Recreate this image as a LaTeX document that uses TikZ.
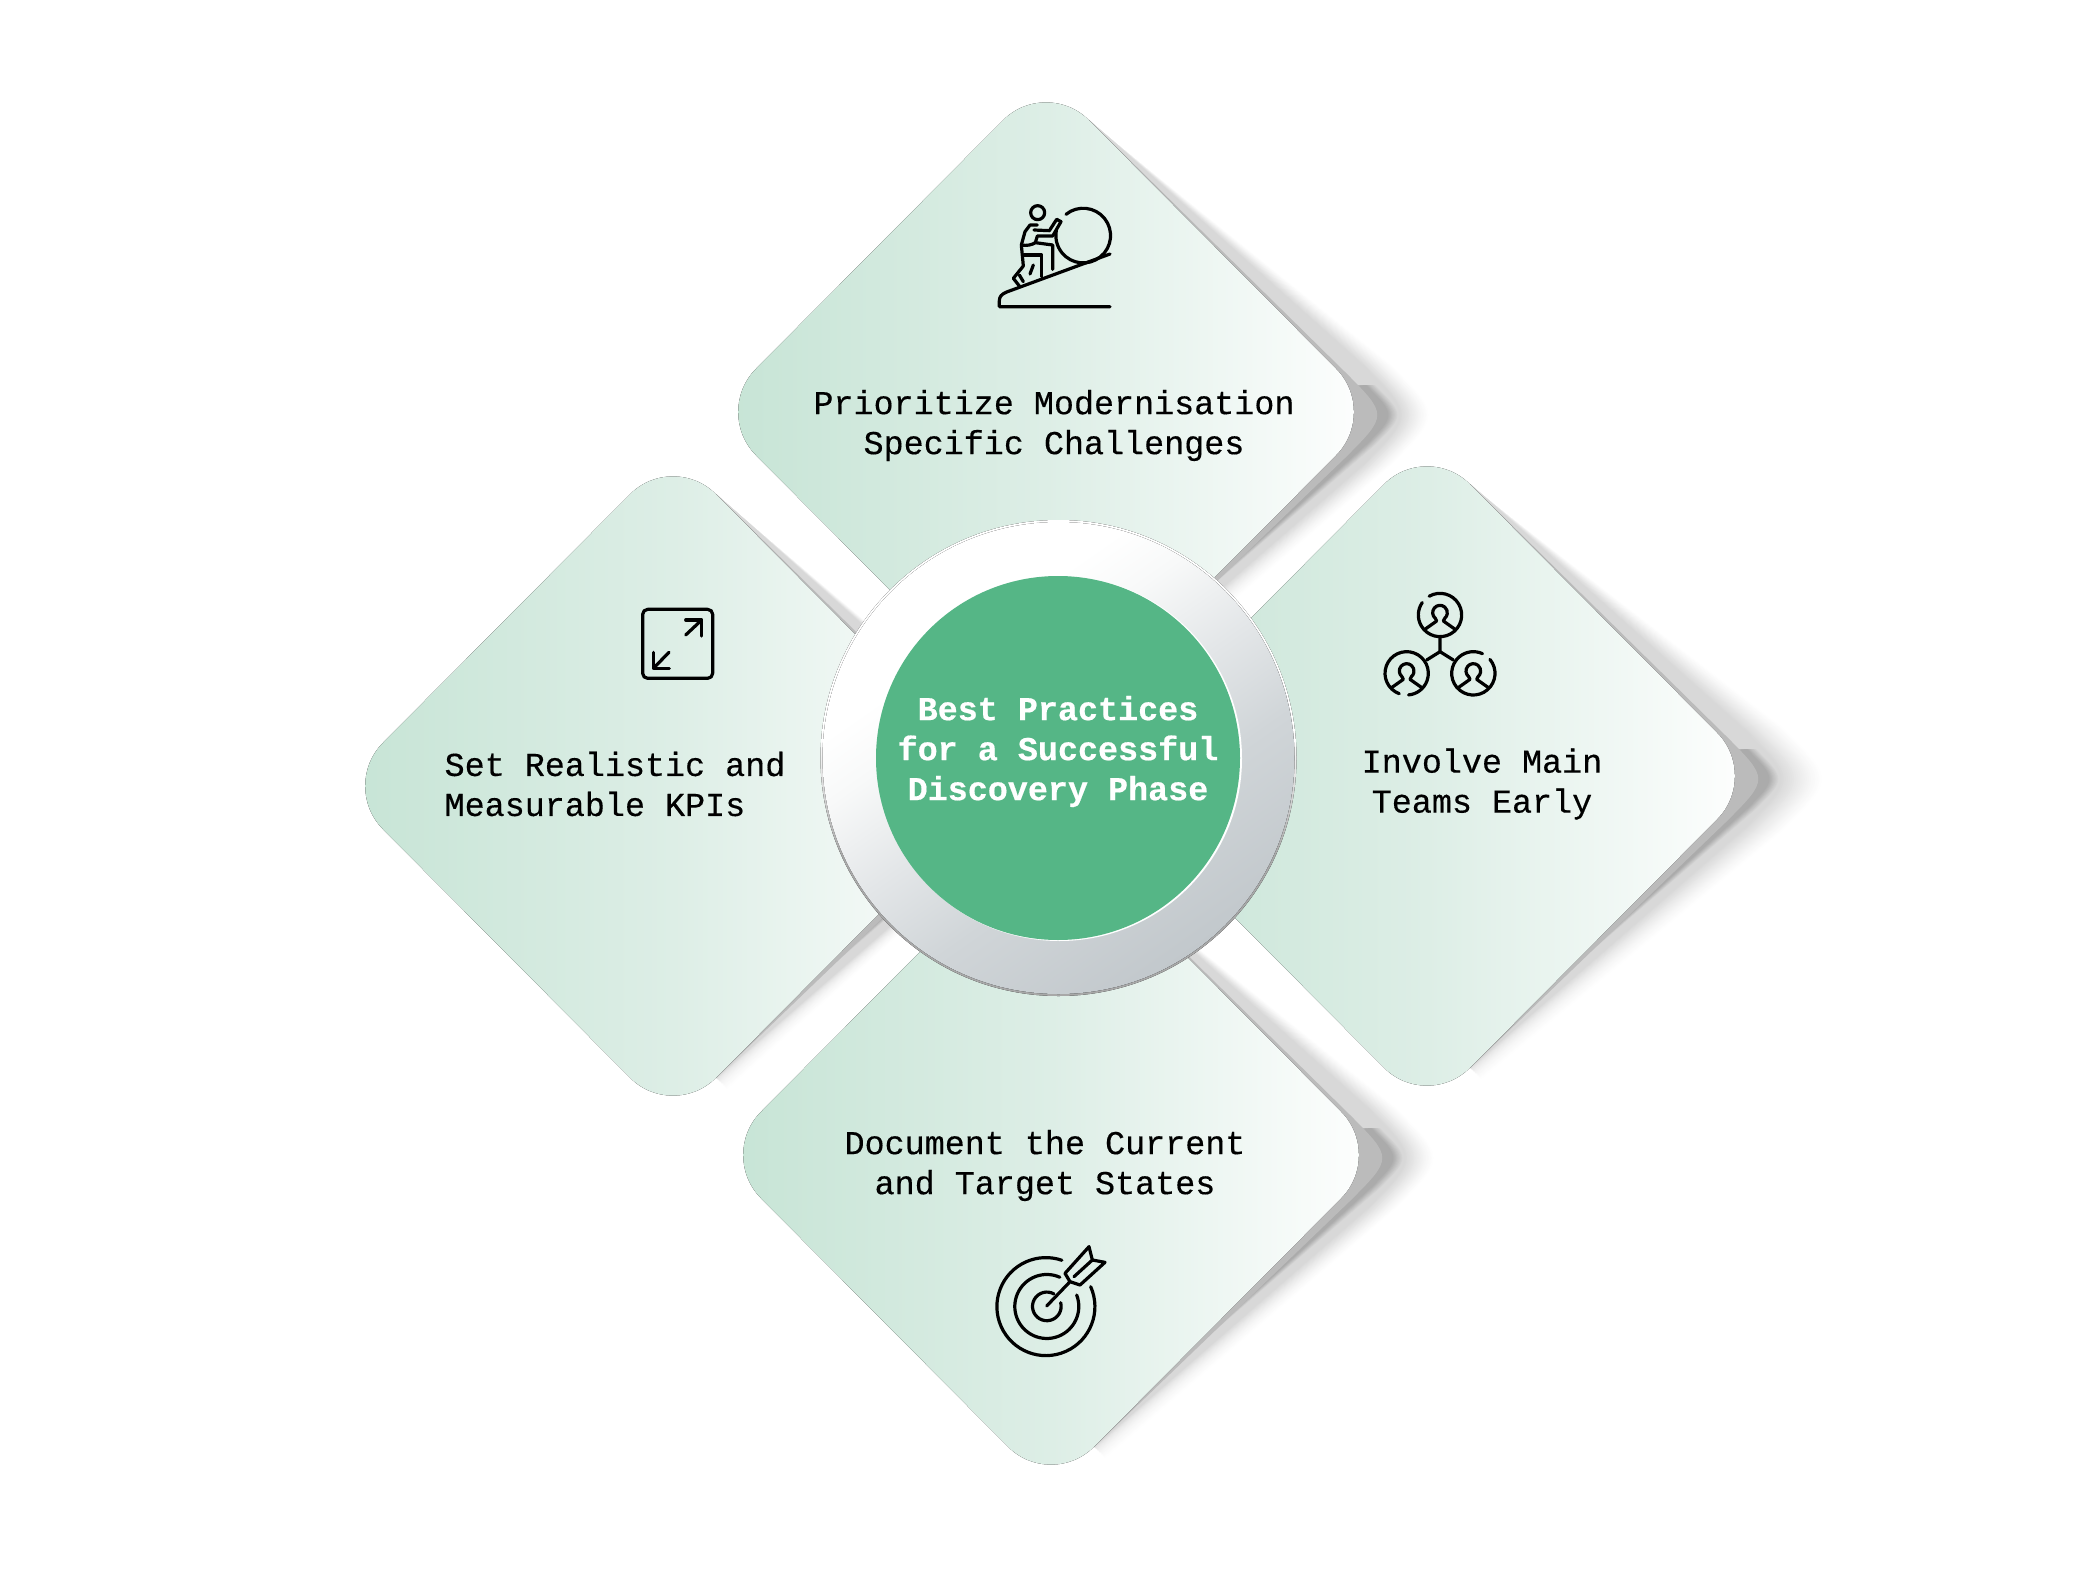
\documentclass[tikz,border=0pt]{standalone}
\usepackage{fontspec}
\setmainfont{Liberation Mono}
\newfontfamily\bodyfont[FakeBold=0.35]{Liberation Mono}
\newfontfamily\headfont[FakeBold=0.5]{Liberation Mono Bold}
\definecolor{mintL}{HTML}{C6E4D5}
\definecolor{mintM}{HTML}{DDEEE6}
\definecolor{mintR}{HTML}{FFFFFF}
\definecolor{softgray}{HTML}{D8D8D8}
\definecolor{darkgray}{HTML}{ABABAB}
\definecolor{bandgray}{HTML}{BBBBBB}
\definecolor{hubgreen}{HTML}{55B686}
\definecolor{ringa}{HTML}{C2C8CC}
\definecolor{ringb}{HTML}{D0D5D8}
\definecolor{ringc}{HTML}{E3E6E8}
\definecolor{ringd}{HTML}{F8F9F9}
\definecolor{ringedge}{HTML}{A8A8A8}
\pgfdeclareverticalshading{ringshade}{100bp}{color(0bp)=(ringa); color(25bp)=(ringa); color(40bp)=(ringb); color(50bp)=(ringc); color(60bp)=(ringd); color(66bp)=(white); color(100bp)=(white)}
\pgfdeclareverticalshading{edgeshade}{100bp}{color(0bp)=(ringedge); color(40bp)=(ringedge); color(52bp)=(white); color(100bp)=(white)}
\tikzset{
  label text/.style={font=\bodyfont\fontsize{16.7}{20}\selectfont,text=black,inner sep=0pt,align=center},
  hub text/.style={font=\headfont\fontsize{16.7}{20}\selectfont,text=white,inner sep=0pt,align=center},
  ico/.style={draw=black,line width=1.6pt,line cap=round,line join=round,fill=none},
  iconscale/.style={x=0.16667pt,y=-0.16667pt},
}
% wedge with a soft tip: colour, cx, cy, top dx, top dy, tip x, bottom dx, bottom dy, softness
\newcommand\shadowwedge[9]{%
  \fill[#1] ({#2+#4},{#3-#5}) -- ({#2+#6-#9},{#3+3-#9})
  .. controls ({#2+#6},{#3+3}) .. ({#2+#6-#9},{#3+3+#9})
  -- ({#2+#7},{#3+#8}) -- cycle;
}
% shadow: cx, cy, reach beyond the tip
\newcommand\softshadow[3]{%
  \foreach \k in {0,...,20}{%
    \pgfmathsetmacro\s{1-\k/20}%
    \pgfmathsetmacro\p{100*(1-\s)^1.2}%
    \pgfmathsetmacro\off{12*\s*\s}%
    \pgfmathsetmacro\tipx{332+35+(#3-35)*\s}%
    \shadowwedge{softgray!\p!white}{#1}{#2}{43+\off}{292+\off}{\tipx}{43+\off}{292+\off}{50}
  }%
  \foreach \k in {0,...,8}{%
    \pgfmathsetmacro\p{100*\k/8}%
    \pgfmathsetmacro\t{360-10*\k/8}%
    \shadowwedge{darkgray!\p!softgray}{#1}{#2}{295}{25}{\t}{95}{235}{30}
  }%
  \shadowwedge{bandgray}{#1}{#2}{43}{292}{342}{43}{292}{43}
}
\newcommand\petal[2]{%
  \fill[left color=mintL,right color=mintR,middle color=mintM,rounded corners=30.5pt]
    ({#1},{#2-335}) -- ({#1+333},{#2}) -- ({#1},{#2+335}) -- ({#1-333},{#2}) -- cycle;
}
\newcommand\person[3]{% cx cy gap-start
  \draw[ico] ({#1+65*cos(#3)},{#2+65*sin(#3)}) arc[start angle=#3,end angle=#3+335,radius=65];
  \draw[ico] ({#1+22*cos(130)},{#2-7+22*sin(130)}) arc[start angle=130,end angle=410,radius=22];
  \draw[ico] ({#1-14},{#2+10}) -- ({#1-10},{#2+18}) -- ({#1-44},{#2+42});
  \draw[ico] ({#1+14},{#2+10}) -- ({#1+10},{#2+18}) -- ({#1+44},{#2+42});
}
\begin{document}
\begin{tikzpicture}[x=0.5pt,y=-0.5pt]
\useasboundingbox[fill=white] (0,0) rectangle (2084,1584);
% shadows
\softshadow{1046}{412}{64}
\softshadow{673}{786}{50}
\softshadow{1427}{776}{77}
\softshadow{1051}{1155}{64}
% petals
\petal{1046}{412}
\petal{673}{786}
\petal{1427}{776}
\petal{1051}{1155}
% hub
\fill[shading=edgeshade] (1058.5,758) circle[radius=238];
\fill[shading=ringshade,shading angle=35] (1058.5,758) circle[radius=236];
\fill[white] (1059.5,758.5) circle[radius=182.5];
\fill[hubgreen] (1058,758) circle[radius=182];
% texts
\node[hub text] (hub) at (1058,751.5) {Best Practices\\for a Successful\\Discovery Phase};
\node[label text] (topl) at (1054,425.5) {Prioritize Modernisation\\Specific Challenges};
\node[label text,align=left] (leftl) at (615,784) {Set Realistic and\\Measurable KPIs};
\node[label text] (rightl) at (1482,784) {Involve Main\\Teams Early};
\node[label text] (botl) at (1045,1165.5) {Document the Current\\and Target States};
% climber icon
\begin{scope}[shift={(960,180)},iconscale]
  \draw[ico] (450,222) -- (140,336) .. controls (125,342) and (118,350) .. (118,362) -- (118,380) -- (450,380);
  \draw[ico] (318,103) arc[start angle=231,end angle=551,radius=82];
  \draw[ico] (233,98) circle[radius=21];
  \draw[ico] (232,135) -- (210,135) -- (195,155) -- (184,195) -- (190,258) -- (160,295) -- (178,318);
  \draw[ico] (178,285) -- (190,305);
  \draw[ico] (184,195) .. controls (200,198) and (215,195) .. (226,188) -- (278,195) -- (278,268);
  \draw[ico] (193,225) -- (245,225) -- (245,290);
  \draw[ico] (210,282) -- (220,255);
  \draw[ico] (222,150) -- (268,152) -- (290,118) -- (303,125) -- (278,168) -- (232,168) -- (226,188);
\end{scope}
% team icon
\begin{scope}[shift={(1360,570)},iconscale]
  \person{240}{135}{-120}
  \person{140}{310}{110}
  \person{340}{310}{-40}
  \draw[ico] (240,200) -- (240,245) -- (200,270);
  \draw[ico] (240,245) -- (280,270);
\end{scope}
% target icon
\begin{scope}[shift={(970,1230)},iconscale]
  \draw[ico] (362,170) arc[start angle=336,end angle=649,radius=147];
  \draw[ico] (320,195) arc[start angle=339,end angle=654,radius=96];
  \draw[ico] (272,218) arc[start angle=345,end angle=660,radius=43];
  \draw[ico] (230,228) -- (300,155);
  \draw[ico] (300,155) -- (285,130) -- (357,50) -- (367,90) -- (405,97) -- (330,165) -- cycle;
  \draw[ico] (312,140) -- (367,90);
\end{scope}
% resize icon
\begin{scope}[shift={(620,590)},iconscale]
  \draw[ico,rounded corners=2.5pt] (68,58) rectangle (278,265);
  \draw[ico] (197,135) -- (245,90);
  \draw[ico] (197,90) -- (245,90) -- (245,138);
  \draw[ico] (147,187) -- (100,235);
  \draw[ico] (100,187) -- (100,235) -- (148,235);
\end{scope}
\end{tikzpicture}
\end{document}
